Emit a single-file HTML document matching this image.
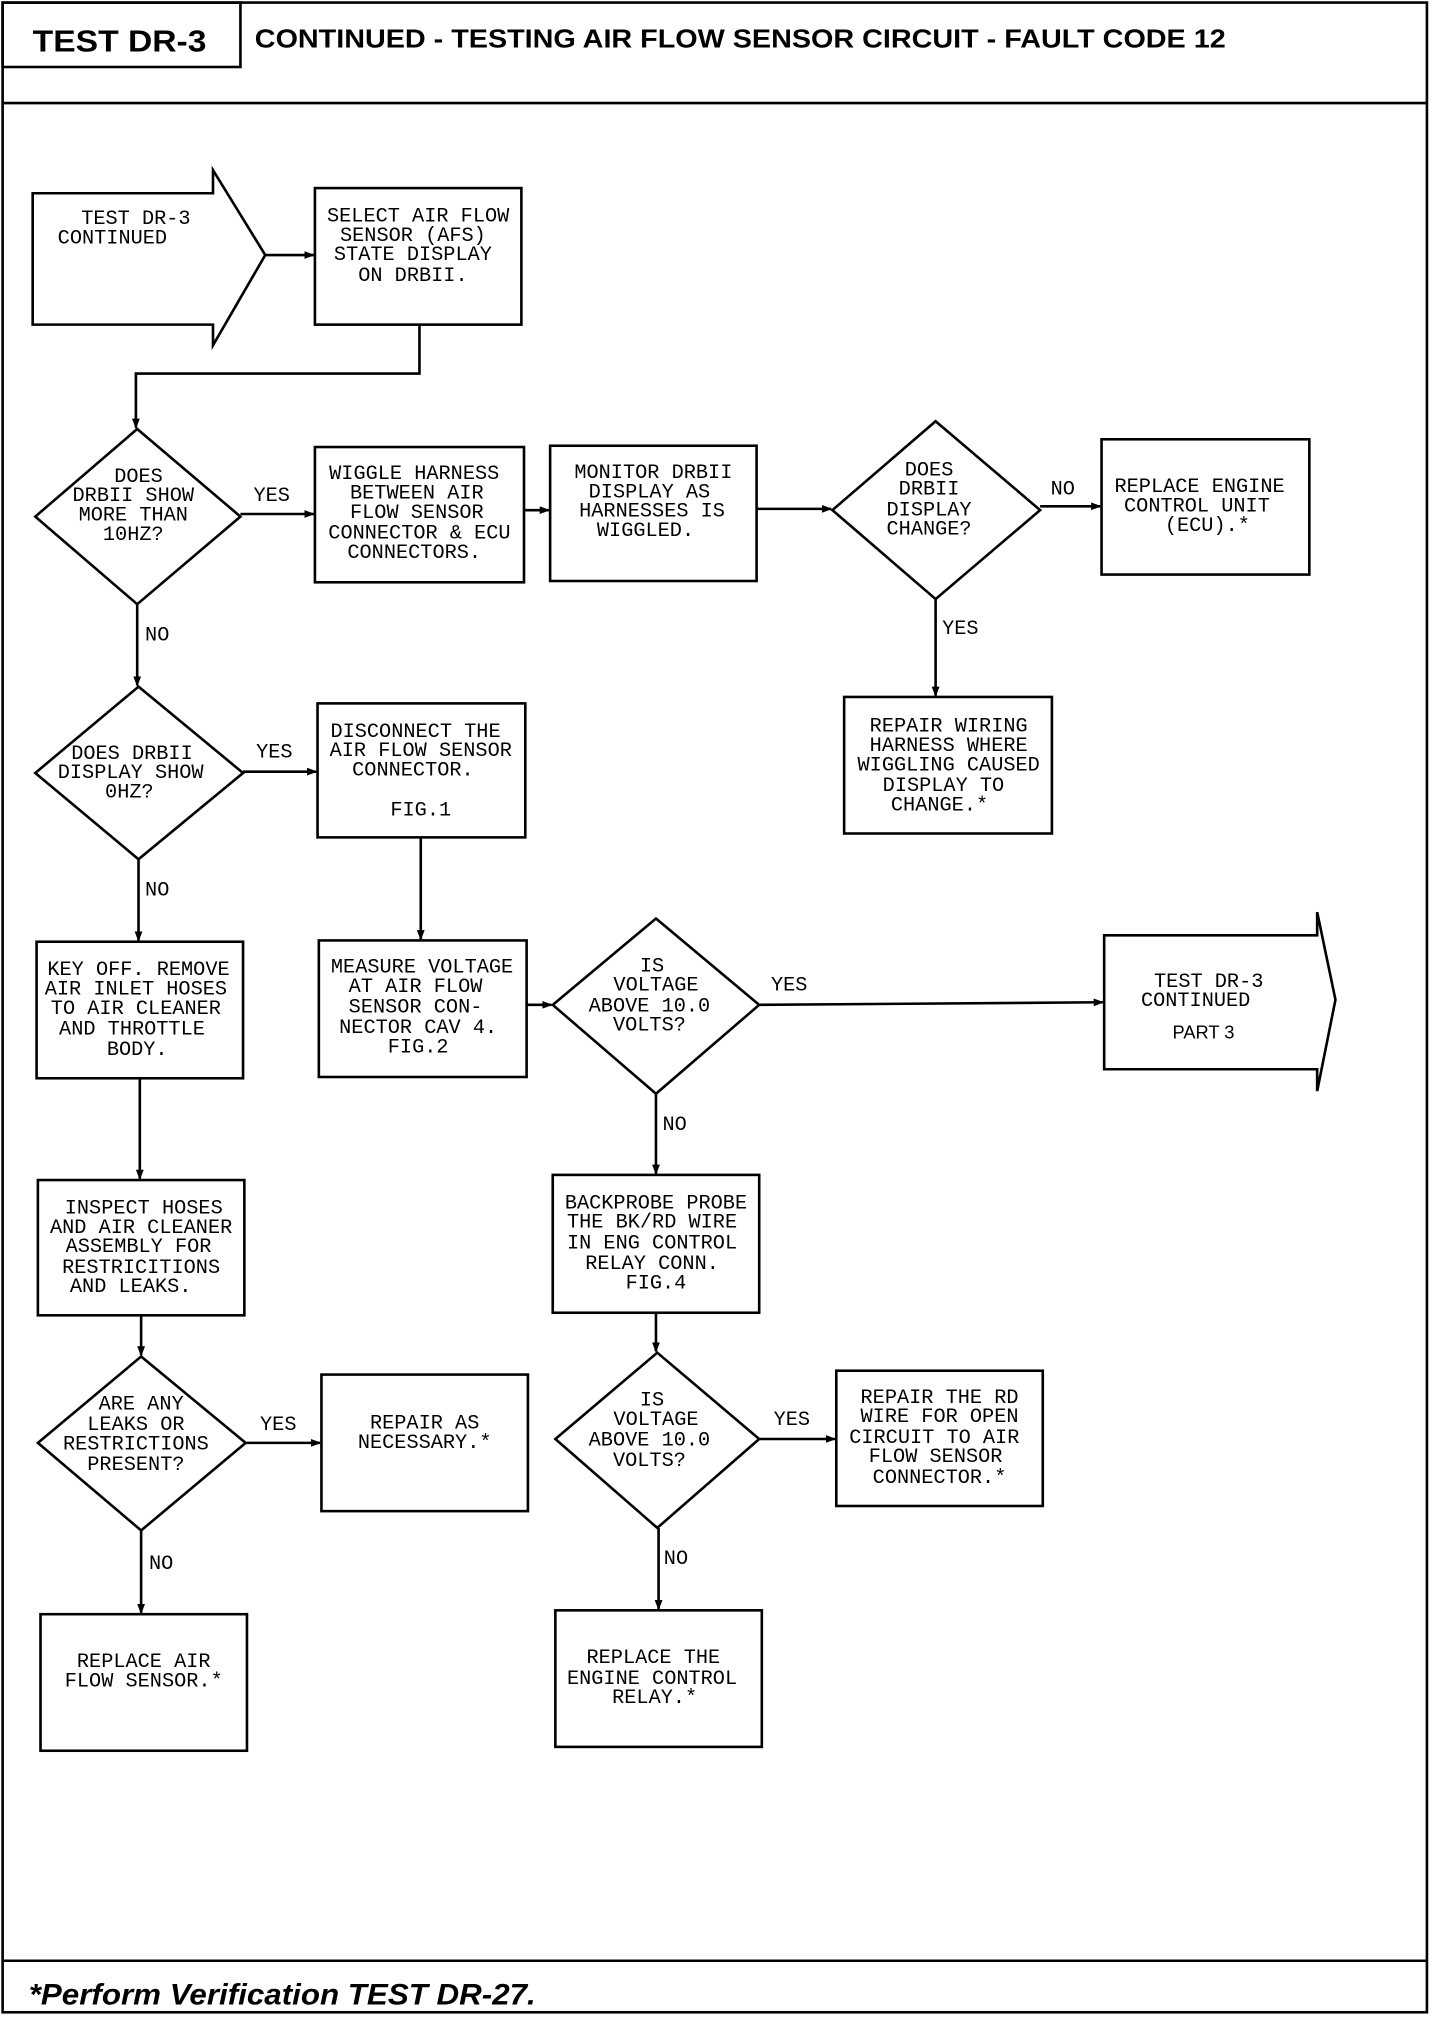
<!DOCTYPE html>
<html><head><meta charset="utf-8"><style>
html,body{margin:0;padding:0;background:#fff;}
svg{display:block;}
.t{font-family:"Liberation Mono",monospace;font-size:15.5px;fill:#000;text-anchor:middle;}
.l{font-family:"Liberation Mono",monospace;font-size:15.5px;fill:#000;}
.s{fill:none;stroke:#000;stroke-width:2;}
.b{fill:#fff;stroke:#000;stroke-width:2;}
</style></head><body>
<svg width="1440" height="2020" viewBox="0 0 1102 1568" preserveAspectRatio="none" xmlns="http://www.w3.org/2000/svg">
<defs><marker id="a" markerWidth="8" markerHeight="8" refX="7" refY="4" orient="auto" markerUnits="userSpaceOnUse"><path d="M0,1 L8,4 L0,7 z" fill="#000"/></marker></defs>
<rect x="2" y="2" width="1090" height="1560" class="s"/>
<line x1="2" y1="80" x2="1092" y2="80" class="s"/>
<rect x="2" y="2" width="182" height="50" class="s"/>
<text x="25" y="40" textLength="133" lengthAdjust="spacingAndGlyphs" style="font-family:'Liberation Sans',sans-serif;font-weight:bold;font-size:24px">TEST DR-3</text>
<text x="195" y="37" textLength="743" lengthAdjust="spacingAndGlyphs" style="font-family:'Liberation Sans',sans-serif;font-weight:bold;font-size:20px">CONTINUED - TESTING AIR FLOW SENSOR CIRCUIT - FAULT CODE 12</text>
<line x1="2" y1="1522" x2="1092" y2="1522" class="s"/>
<text x="22" y="1556" textLength="388" lengthAdjust="spacingAndGlyphs" style="font-family:'Liberation Sans',sans-serif;font-weight:bold;font-style:italic;font-size:23px">*Perform Verification TEST DR-27.</text>

<g class="s">
<line x1="203" y1="198" x2="240" y2="198" marker-end="url(#a)"/>
<polyline points="321,252 321,290 104,290 104,332" marker-end="url(#a)"/>
<line x1="184" y1="399" x2="240" y2="399" marker-end="url(#a)"/>
<line x1="401" y1="396" x2="420" y2="396" marker-end="url(#a)"/>
<line x1="579" y1="395" x2="636" y2="395" marker-end="url(#a)"/>
<line x1="796" y1="393" x2="842" y2="393" marker-end="url(#a)"/>
<line x1="716" y1="465" x2="716" y2="540" marker-end="url(#a)"/>
<line x1="105" y1="469" x2="105" y2="532" marker-end="url(#a)"/>
<line x1="186" y1="599" x2="242" y2="599" marker-end="url(#a)"/>
<line x1="322" y1="650" x2="322" y2="729" marker-end="url(#a)"/>
<line x1="106" y1="667" x2="106" y2="730" marker-end="url(#a)"/>
<line x1="403" y1="780" x2="422" y2="780" marker-end="url(#a)"/>
<line x1="581" y1="780" x2="844" y2="778" marker-end="url(#a)"/>
<line x1="502" y1="849" x2="502" y2="911" marker-end="url(#a)"/>
<line x1="107" y1="837" x2="107" y2="915" marker-end="url(#a)"/>
<line x1="108" y1="1021" x2="108" y2="1052" marker-end="url(#a)"/>
<line x1="502" y1="1019" x2="502" y2="1049" marker-end="url(#a)"/>
<line x1="188" y1="1120" x2="245" y2="1120" marker-end="url(#a)"/>
<line x1="108" y1="1188" x2="108" y2="1252" marker-end="url(#a)"/>
<line x1="581" y1="1117" x2="639" y2="1117" marker-end="url(#a)"/>
<line x1="504" y1="1186" x2="504" y2="1249" marker-end="url(#a)"/>
</g>

<polygon class="b" points="25,150 163,150 163,132 203,198 163,268 163,252 25,252"/>
<polygon class="b" points="845,726 1008,726 1008,708 1022,776 1008,847 1008,830 845,830"/>
<rect class="b" x="241" y="146" width="158" height="106"/>
<rect class="b" x="241" y="347" width="160" height="105"/>
<rect class="b" x="421" y="346" width="158" height="105"/>
<rect class="b" x="843" y="341" width="159" height="105"/>
<rect class="b" x="646" y="541" width="159" height="106"/>
<rect class="b" x="243" y="546" width="159" height="104"/>
<rect class="b" x="28" y="731" width="158" height="106"/>
<rect class="b" x="244" y="730" width="159" height="106"/>
<rect class="b" x="423" y="912" width="158" height="107"/>
<rect class="b" x="29" y="916" width="158" height="105"/>
<rect class="b" x="246" y="1067" width="158" height="106"/>
<rect class="b" x="31" y="1253" width="158" height="106"/>
<rect class="b" x="640" y="1064" width="158" height="105"/>
<rect class="b" x="425" y="1250" width="158" height="106"/>
<polygon class="b" points="105,333 184,401 105,469 27,401"/>
<polygon class="b" points="716,327 796,396 716,465 637,396"/>
<polygon class="b" points="106,533 186,600 106,667 27,600"/>
<polygon class="b" points="502,713 581,780 502,849 423,780"/>
<polygon class="b" points="108,1053 188,1120 108,1188 29,1120"/>
<polygon class="b" points="503,1050 581,1117 503,1186 425,1117"/>

<text class="l" x="194" y="389">YES</text>
<text class="l" x="804" y="384">NO</text>
<text class="l" x="721" y="492">YES</text>
<text class="l" x="111" y="497">NO</text>
<text class="l" x="196" y="588">YES</text>
<text class="l" x="111" y="695">NO</text>
<text class="l" x="590" y="769">YES</text>
<text class="l" x="507" y="877">NO</text>
<text class="l" x="199" y="1110">YES</text>
<text class="l" x="114" y="1218">NO</text>
<text class="l" x="592" y="1106">YES</text>
<text class="l" x="508" y="1214">NO</text>

<text class="t"><tspan x="104" y="174">TEST DR-3</tspan><tspan x="86" y="189">CONTINUED</tspan></text>
<text class="t"><tspan x="320" y="172">SELECT AIR FLOW</tspan><tspan x="316" y="187">SENSOR (AFS)</tspan><tspan x="316" y="202">STATE DISPLAY</tspan><tspan x="316" y="218">ON DRBII.</tspan></text>
<text class="t"><tspan x="106" y="374">DOES</tspan><tspan x="102" y="389">DRBII SHOW</tspan><tspan x="102" y="404">MORE THAN</tspan><tspan x="102" y="419">10HZ?</tspan></text>
<text class="t"><tspan x="317" y="372">WIGGLE HARNESS</tspan><tspan x="319" y="387">BETWEEN AIR</tspan><tspan x="319" y="402">FLOW SENSOR</tspan><tspan x="321" y="418">CONNECTOR &amp; ECU</tspan><tspan x="317" y="433">CONNECTORS.</tspan></text>
<text class="t"><tspan x="500" y="371">MONITOR DRBII</tspan><tspan x="497" y="386">DISPLAY AS</tspan><tspan x="499" y="401">HARNESSES IS</tspan><tspan x="494" y="416">WIGGLED.</tspan></text>
<text class="t"><tspan x="711" y="369">DOES</tspan><tspan x="711" y="384">DRBII</tspan><tspan x="711" y="400">DISPLAY</tspan><tspan x="711" y="415">CHANGE?</tspan></text>
<text class="t"><tspan x="918" y="382">REPLACE ENGINE</tspan><tspan x="916" y="397">CONTROL UNIT</tspan><tspan x="924" y="412">(ECU).*</tspan></text>
<text class="t"><tspan x="726" y="568">REPAIR WIRING</tspan><tspan x="726" y="583">HARNESS WHERE</tspan><tspan x="726" y="598">WIGGLING CAUSED</tspan><tspan x="722" y="614">DISPLAY TO</tspan><tspan x="719" y="629">CHANGE.*</tspan></text>
<text class="t"><tspan x="101" y="589">DOES DRBII</tspan><tspan x="100" y="604">DISPLAY SHOW</tspan><tspan x="99" y="619">0HZ?</tspan></text>
<text class="t"><tspan x="318" y="572">DISCONNECT THE</tspan><tspan x="322" y="587">AIR FLOW SENSOR</tspan><tspan x="316" y="602">CONNECTOR.</tspan><tspan x="322" y="633">FIG.1</tspan></text>
<text class="t"><tspan x="106" y="757">KEY OFF. REMOVE</tspan><tspan x="104" y="772">AIR INLET HOSES</tspan><tspan x="104" y="787">TO AIR CLEANER</tspan><tspan x="101" y="803">AND THROTTLE</tspan><tspan x="105" y="819">BODY.</tspan></text>
<text class="t"><tspan x="323" y="755">MEASURE VOLTAGE</tspan><tspan x="318" y="770">AT AIR FLOW</tspan><tspan x="318" y="786">SENSOR CON-</tspan><tspan x="320" y="802">NECTOR CAV 4.</tspan><tspan x="320" y="817">FIG.2</tspan></text>
<text class="t"><tspan x="499" y="754">IS</tspan><tspan x="502" y="769">VOLTAGE</tspan><tspan x="497" y="785">ABOVE 10.0</tspan><tspan x="497" y="800">VOLTS?</tspan></text>
<text class="t"><tspan x="925" y="766">TEST DR-3</tspan><tspan x="915" y="781">CONTINUED</tspan></text>
<text x="921" y="806" style="font-family:'Liberation Sans',sans-serif;font-size:14px;text-anchor:middle">PART 3</text>
<text class="t"><tspan x="502" y="938">BACKPROBE PROBE</tspan><tspan x="499" y="953">THE BK/RD WIRE</tspan><tspan x="499" y="969">IN ENG CONTROL</tspan><tspan x="499" y="985">RELAY CONN.</tspan><tspan x="502" y="1000">FIG.4</tspan></text>
<text class="t"><tspan x="110" y="942">INSPECT HOSES</tspan><tspan x="108" y="957">AND AIR CLEANER</tspan><tspan x="106" y="972">ASSEMBLY FOR</tspan><tspan x="108" y="988">RESTRICITIONS</tspan><tspan x="100" y="1003">AND LEAKS.</tspan></text>
<text class="t"><tspan x="108" y="1094">ARE ANY</tspan><tspan x="104" y="1110">LEAKS OR</tspan><tspan x="104" y="1125">RESTRICTIONS</tspan><tspan x="104" y="1141">PRESENT?</tspan></text>
<text class="t"><tspan x="325" y="1109">REPAIR AS</tspan><tspan x="325" y="1124">NECESSARY.*</tspan></text>
<text class="t"><tspan x="110" y="1294">REPLACE AIR</tspan><tspan x="110" y="1309">FLOW SENSOR.*</tspan></text>
<text class="t"><tspan x="499" y="1091">IS</tspan><tspan x="502" y="1106">VOLTAGE</tspan><tspan x="497" y="1122">ABOVE 10.0</tspan><tspan x="497" y="1138">VOLTS?</tspan></text>
<text class="t"><tspan x="719" y="1089">REPAIR THE RD</tspan><tspan x="719" y="1104">WIRE FOR OPEN</tspan><tspan x="715" y="1120">CIRCUIT TO AIR</tspan><tspan x="716" y="1135">FLOW SENSOR</tspan><tspan x="719" y="1151">CONNECTOR.*</tspan></text>
<text class="t"><tspan x="500" y="1291">REPLACE THE</tspan><tspan x="499" y="1307">ENGINE CONTROL</tspan><tspan x="501" y="1322">RELAY.*</tspan></text>
</svg>
</body></html>
